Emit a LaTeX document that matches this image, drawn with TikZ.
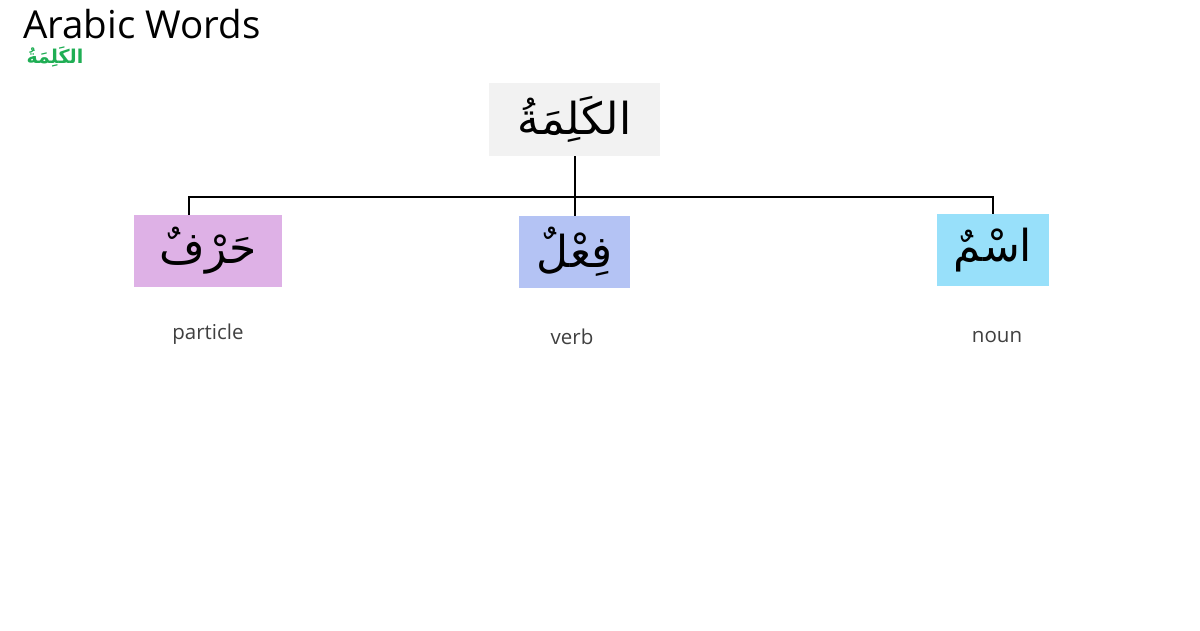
\documentclass[tikz,border=0pt]{standalone}
\usepackage{fontspec}
\setmainfont{Open Sans}
\newfontfamily\arabicfont[Script=Arabic]{DejaVu Sans}
\TeXXeTstate=1
\definecolor{topgray}{HTML}{F2F2F2}
\definecolor{harfc}{HTML}{DEB1E6}
\definecolor{fielc}{HTML}{B4C3F4}
\definecolor{ismc}{HTML}{98E0FA}
\definecolor{titlegreen}{HTML}{1FAE54}
\definecolor{labelgray}{HTML}{404040}
\begin{document}
\begin{tikzpicture}[x=1pt,y=-1pt,
  wordbox/.style={inner sep=0pt,align=center,font=\arabicfont\fontsize{44}{48}\selectfont},
  gloss/.style={inner sep=0pt,text=labelgray,font=\fontsize{20.5}{24}\selectfont},
  conn/.style={draw=black,line width=2pt}]
\useasboundingbox[fill=white] (0,0) rectangle (1200,630);
\node[anchor=base west,inner sep=0pt,font=\fontsize{38.5}{44}\selectfont] (title) at (23,38) {Arabic Words};
\node[inner sep=0pt,text=titlegreen,font=\arabicfont\bfseries\fontsize{19}{21}\selectfont] (sub) at (55,57) {\beginR الكَلِمَةُ\endR};
\node[wordbox,fill=topgray,minimum width=171pt,minimum height=73pt] (top) at (574.5,119.5) {\beginR الكَلِمَةُ\endR};
\node[wordbox,fill=harfc,minimum width=148pt,minimum height=72pt] (harf) at (208,251) {\beginR حَرْفٌ\endR};
\node[wordbox,fill=fielc,minimum width=111pt,minimum height=72pt] (fiel) at (574.5,252) {\beginR فِعْلٌ\endR};
\node[wordbox,fill=ismc,minimum width=112pt,minimum height=72pt] (ism) at (993,250) {\beginR اسْمٌ\endR};
\node[gloss] (particle) at (208,334) {particle};
\node[gloss] (verb) at (572,337) {verb};
\node[gloss] (noun) at (997,337) {noun};
\draw[conn] (top.south) -- (fiel.north);
\draw[conn] ([xshift=-19pt]harf.north) -- ++(0,-18) coordinate (hl) -- (hl -| ism.north) -- (ism.north);
\end{tikzpicture}
\end{document}
